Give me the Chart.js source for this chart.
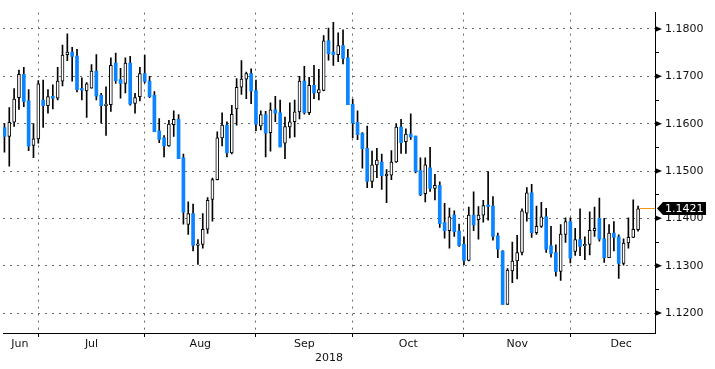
<!DOCTYPE html>
<html>
<head>
<meta charset="utf-8">
<script src="https://cdn.jsdelivr.net/npm/chart.js@4.4.0/dist/chart.umd.min.js"></script>
<style>
  html, body { margin: 0; padding: 0; background: #fff; }
  #wrap { width: 715px; height: 369px; }
</style>
</head>
<body>
<div id="wrap"><canvas id="myChart"></canvas></div>
<script>
// daily candles, 21 Jun - 21 Dec 2018
let opens = [
  1.1592,1.1573,1.1603,1.1655,1.1704,1.1648,1.1554,1.1568,1.1650,1.1638,
  1.1658,1.1654,1.1690,1.1746,1.1751,1.1743,1.1674,1.1669,1.1675,1.1711,
  1.1660,1.1638,1.1640,1.1728,1.1693,1.1685,1.1728,1.1643,1.1657,1.1706,
  1.1690,1.1660,1.1585,1.1570,1.1553,1.1598,1.1609,1.1528,1.1387,1.1410,
  1.1343,1.1345,1.1377,1.1440,1.1482,1.1570,1.1597,1.1538,1.1631,1.1677,
  1.1694,1.1706,1.1670,1.1595,1.1619,1.1581,1.1629,1.1623,1.1559,1.1593,
  1.1604,1.1625,1.1690,1.1623,1.1681,1.1665,1.1670,1.1775,1.1751,1.1746,
  1.1765,1.1739,1.1641,1.1603,1.1579,1.1548,1.1478,1.1513,1.1519,1.1490,
  1.1491,1.1519,1.1593,1.1562,1.1578,1.1574,1.1501,1.1452,1.1507,1.1463,
  1.1470,1.1391,1.1374,1.1407,1.1373,1.1345,1.1311,1.1407,1.1397,1.1407,
  1.1428,1.1426,1.1363,1.1331,1.1218,1.1289,1.1310,1.1328,1.1411,1.1454,
  1.1370,1.1383,1.1403,1.1342,1.1328,1.1288,1.1366,1.1393,1.1330,1.1355,
  1.1342,1.1345,1.1374,1.1400,1.1357,1.1317,1.1369,1.1361,1.1305,1.1348,
  1.1360,1.1376
];
let highs = [
  1.1600,1.1634,1.1674,1.1713,1.1719,1.1672,1.1600,1.1691,1.1692,1.1672,
  1.1682,1.1719,1.1766,1.1790,1.1761,1.1757,1.1697,1.1687,1.1725,1.1746,
  1.1664,1.1678,1.1739,1.1749,1.1717,1.1739,1.1742,1.1664,1.1719,1.1745,
  1.1700,1.1668,1.1611,1.1575,1.1607,1.1627,1.1619,1.1536,1.1435,1.1430,
  1.1355,1.1410,1.1444,1.1485,1.1583,1.1623,1.1604,1.1639,1.1695,1.1733,
  1.1709,1.1716,1.1692,1.1627,1.1626,1.1644,1.1658,1.1650,1.1614,1.1644,
  1.1650,1.1700,1.1721,1.1698,1.1723,1.1715,1.1786,1.1802,1.1814,1.1792,
  1.1798,1.1757,1.1652,1.1627,1.1581,1.1595,1.1542,1.1548,1.1536,1.1503,
  1.1543,1.1599,1.1609,1.1589,1.1621,1.1574,1.1528,1.1528,1.1550,1.1493,
  1.1477,1.1432,1.1422,1.1416,1.1388,1.1361,1.1424,1.1456,1.1425,1.1438,
  1.1499,1.1446,1.1369,1.1332,1.1294,1.1350,1.1364,1.1420,1.1465,1.1472,
  1.1426,1.1434,1.1421,1.1383,1.1344,1.1387,1.1401,1.1401,1.1379,1.1420,
  1.1361,1.1414,1.1424,1.1443,1.1400,1.1387,1.1393,1.1365,1.1357,1.1401,
  1.1439,1.1426
];
let lows = [
  1.1540,1.1510,1.1594,1.1630,1.1636,1.1543,1.1528,1.1559,1.1592,1.1622,
  1.1631,1.1650,1.1680,1.1733,1.1690,1.1667,1.1650,1.1613,1.1675,1.1650,
  1.1601,1.1575,1.1626,1.1685,1.1654,1.1665,1.1639,1.1622,1.1648,1.1686,
  1.1655,1.1583,1.1560,1.1530,1.1552,1.1573,1.1526,1.1388,1.1366,1.1331,
  1.1303,1.1337,1.1368,1.1394,1.1481,1.1553,1.1530,1.1536,1.1597,1.1662,
  1.1653,1.1642,1.1585,1.1587,1.1530,1.1542,1.1604,1.1551,1.1526,1.1570,
  1.1572,1.1610,1.1620,1.1619,1.1653,1.1650,1.1669,1.1734,1.1723,1.1731,
  1.1726,1.1640,1.1570,1.1566,1.1506,1.1465,1.1465,1.1486,1.1461,1.1433,
  1.1482,1.1518,1.1537,1.1537,1.1567,1.1496,1.1448,1.1435,1.1457,1.1439,
  1.1381,1.1358,1.1337,1.1362,1.1341,1.1302,1.1310,1.1374,1.1356,1.1392,
  1.1396,1.1354,1.1317,1.1218,1.1218,1.1264,1.1272,1.1323,1.1394,1.1360,
  1.1366,1.1381,1.1328,1.1318,1.1278,1.1269,1.1349,1.1306,1.1322,1.1321,
  1.1313,1.1323,1.1362,1.1352,1.1307,1.1317,1.1331,1.1273,1.1301,1.1337,
  1.1359,1.1373
];
let closes = [
  1.1573,1.1603,1.1652,1.1704,1.1647,1.1553,1.1568,1.1684,1.1638,1.1657,
  1.1654,1.1690,1.1745,1.1751,1.1742,1.1672,1.1671,1.1684,1.1711,1.1658,
  1.1638,1.1640,1.1723,1.1691,1.1685,1.1728,1.1641,1.1655,1.1706,1.1689,
  1.1657,1.1583,1.1567,1.1553,1.1599,1.1609,1.1526,1.1413,1.1410,1.1343,
  1.1345,1.1377,1.1438,1.1482,1.1570,1.1597,1.1538,1.1620,1.1677,1.1694,
  1.1706,1.1669,1.1599,1.1619,1.1580,1.1629,1.1622,1.1551,1.1594,1.1604,
  1.1625,1.1690,1.1623,1.1681,1.1665,1.1672,1.1775,1.1748,1.1746,1.1765,
  1.1738,1.1640,1.1601,1.1577,1.1547,1.1478,1.1513,1.1523,1.1490,1.1491,
  1.1519,1.1593,1.1560,1.1578,1.1572,1.1499,1.1450,1.1513,1.1463,1.1470,
  1.1389,1.1374,1.1403,1.1372,1.1343,1.1311,1.1407,1.1386,1.1407,1.1427,
  1.1425,1.1362,1.1335,1.1218,1.1291,1.1310,1.1328,1.1416,1.1454,1.1370,
  1.1383,1.1403,1.1335,1.1326,1.1288,1.1367,1.1393,1.1316,1.1355,1.1341,
  1.1345,1.1375,1.1379,1.1356,1.1317,1.1369,1.1360,1.1305,1.1348,1.1360,
  1.1377,1.1420
];

let monthNames = ["Jun", "Jul", "Aug", "Sep", "Oct", "Nov", "Dec"];
let monthLabelPos = [3.2, 18, 40.5, 62, 83.5, 106, 127.5];   // candle index where the name sits
let monthStarts = [7, 29, 52, 72, 95, 117];                 // first trading day of Jul..Dec
let yearLabel = "2018";
let yTicks = [1.12, 1.125, 1.13, 1.135, 1.14, 1.145, 1.15, 1.155, 1.16, 1.165, 1.17, 1.175, 1.18];
let lastPrice = 1.1421;

let blue = "#0a84ff";
let gridGrey = "#6b6b6b";
let textColor = "#111";

function isUp(i){
    return closes[i] >= opens[i];
}
function isMajor(v){
    return Math.abs(v * 100 - Math.round(v * 100)) < 1e-6;
}

let wicks = lows.map((l, i) => ({x: i, y: [l, highs[i]]}));
let bodies = opens.map((o, i) => ({x: i, y: [o, closes[i]]}));

// right axis markers + last price tag
let extras = {
    id: "extras",
    afterDraw(chart){
        let c = chart.ctx;
        let y = chart.scales.y;
        let x = chart.scales.x;
        let r = chart.chartArea.right;
        c.save();
        c.fillStyle = "#000";
        yTicks.filter(isMajor).forEach(v => {
            let py = y.getPixelForValue(v);
            c.beginPath();
            c.moveTo(r, py - 3);
            c.lineTo(r + 7, py);
            c.lineTo(r, py + 3);
            c.closePath();
            c.fill();
        });

        let py = Math.round(y.getPixelForValue(lastPrice)) + 0.5;
        c.strokeStyle = "#f29b12";
        c.lineWidth = 1;
        c.beginPath();
        c.moveTo(x.getPixelForValue(closes.length - 1) + 1.5, py);
        c.lineTo(r, py);
        c.stroke();

        c.fillStyle = "#000";
        c.beginPath();
        c.moveTo(r + 2, py);
        c.lineTo(r + 8, py - 6.5);
        c.lineTo(r + 51, py - 6.5);
        c.lineTo(r + 51, py + 6.5);
        c.lineTo(r + 8, py + 6.5);
        c.closePath();
        c.fill();
        c.fillStyle = "#fff";
        c.font = "11px 'DejaVu Sans'";
        c.textBaseline = "middle";
        c.textAlign = "left";
        c.fillText(lastPrice.toFixed(4), r + 10, py + 0.5);
        c.restore();
    }
};

let ctx = document.getElementById("myChart").getContext("2d");
let myChart = new Chart(ctx, {
    type: "bar",
    data: {
        datasets: [{
            data: bodies,
            grouped: false,
            barThickness: 3,
            minBarLength: 1.5,
            borderSkipped: false,
            backgroundColor: c => isUp(c.dataIndex) ? "#fff" : blue,
            borderColor: c => isUp(c.dataIndex) ? "#000" : blue,
            borderWidth: c => isUp(c.dataIndex) ? 1 : 0
        }, {
            data: wicks,
            grouped: false,
            order: 1,
            barThickness: 1,
            borderWidth: 0,
            backgroundColor: "#000"
        }]
    },
    options: {
        responsive: true,
        maintainAspectRatio: false,
        animation: false,
        layout: { padding: { left: 3, top: 0, right: 0, bottom: 0 } },
        plugins: {
            legend: { display: false },
            tooltip: { enabled: false }
        },
        scales: {
            x: {
                type: "linear",
                min: -0.3,
                max: 134.5,
                offset: false,
                afterBuildTicks: s => {
                    let t = monthStarts.map(v => ({value: v}))
                        .concat(monthLabelPos.map(v => ({value: v})));
                    s.ticks = t.sort((a, b) => a.value - b.value);
                },
                afterFit: s => { s.height = 36; },
                grid: {
                    offset: false,
                    color: c => monthStarts.includes(c.tick && c.tick.value) ? gridGrey : "rgba(0,0,0,0)",
                    tickColor: c => monthStarts.includes(c.tick && c.tick.value) ? "#000" : "rgba(0,0,0,0)",
                    tickLength: 4,
                    lineWidth: 1
                },
                border: { display: true, color: "#000", width: 1, dash: [2, 5] },
                ticks: {
                    autoSkip: false,
                    maxRotation: 0,
                    padding: 1,
                    color: textColor,
                    font: { family: "DejaVu Sans", size: 11 },
                    callback: v => {
                        let k = monthLabelPos.indexOf(v);
                        return k >= 0 ? monthNames[k] : "";
                    }
                },
                title: {
                    display: true,
                    text: yearLabel,
                    color: textColor,
                    font: { family: "DejaVu Sans", size: 11 },
                    padding: { top: 0, bottom: 4 }
                }
            },
            y: {
                type: "linear",
                position: "right",
                min: 1.11579,
                max: 1.18346,
                afterBuildTicks: s => { s.ticks = yTicks.map(v => ({value: v})); },
                afterFit: s => { s.width = 60; },
                grid: {
                    color: c => (c.tick && isMajor(c.tick.value)) ? gridGrey : "rgba(0,0,0,0)",
                    tickColor: "#000",
                    tickLength: 4,
                    lineWidth: 1
                },
                border: { display: true, color: "#000", width: 1, dash: [2, 5] },
                ticks: {
                    padding: 6,
                    color: textColor,
                    font: { family: "DejaVu Sans", size: 11 },
                    callback: v => isMajor(v) ? v.toFixed(4) : ""
                }
            }
        }
    },
    plugins: [extras]
});
</script>
</body>
</html>
